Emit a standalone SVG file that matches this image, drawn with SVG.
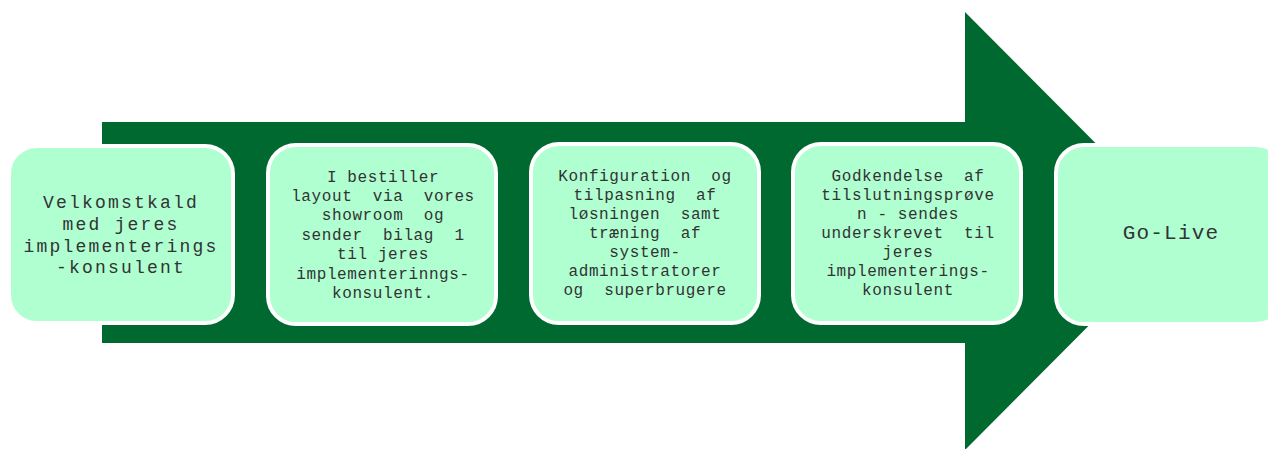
<svg xmlns="http://www.w3.org/2000/svg" width="1268" height="449" viewBox="0 0 1268 449">
<style>
.box{fill:#AFFFD1;stroke:#FFFFFF;stroke-width:4}
.t{font-family:"Liberation Mono","Courier New",monospace;fill:#333333;text-anchor:middle;white-space:pre}
.s{font-size:16px;letter-spacing:0.6px}
.b{font-size:18px;letter-spacing:2.2px}
.g{font-size:21px;letter-spacing:1.2px}
</style>
<g id="connectors">
<path d="M102,122 L965,122 L965,12 L1183,231 L965,450 L965,343 L102,343 Z" fill="#00692F"/>
</g>
<g id="n1">
<rect class="box" x="9" y="146" width="224" height="177" rx="28"/>
<text class="t b" xml:space="preserve"><tspan x="121" y="208">Velkomstkald</tspan><tspan x="121" y="230">med jeres</tspan><tspan x="121" y="252">implementerings</tspan><tspan x="121" y="273">-konsulent</tspan></text>
</g>
<g id="n2">
<rect class="box" x="268" y="145" width="228" height="179" rx="28"/>
<text class="t s" xml:space="preserve"><tspan x="383" y="182">I bestiller</tspan><tspan x="383" y="201">layout  via  vores</tspan><tspan x="383" y="220">showroom  og</tspan><tspan x="383" y="240">sender  bilag  1</tspan><tspan x="383" y="259">til jeres</tspan><tspan x="383" y="279">implementerinngs-</tspan><tspan x="383" y="298">konsulent.</tspan></text>
</g>
<g id="n3">
<rect class="box" x="531" y="144" width="228" height="179" rx="28"/>
<text class="t s" xml:space="preserve"><tspan x="645" y="181">Konfiguration  og</tspan><tspan x="645" y="200">tilpasning  af</tspan><tspan x="645" y="219">løsningen  samt</tspan><tspan x="645" y="238">træning  af</tspan><tspan x="645" y="257">system-</tspan><tspan x="645" y="276">administratorer</tspan><tspan x="645" y="295">og  superbrugere</tspan></text>
</g>
<g id="n4">
<rect class="box" x="793" y="144" width="228" height="179" rx="28"/>
<text class="t s" xml:space="preserve"><tspan x="908" y="181">Godkendelse  af</tspan><tspan x="908" y="200">tilslutningsprøve</tspan><tspan x="908" y="219">n - sendes</tspan><tspan x="908" y="238">underskrevet  til</tspan><tspan x="908" y="257">jeres</tspan><tspan x="908" y="276">implementerings-</tspan><tspan x="908" y="295">konsulent</tspan></text>
</g>
<g id="n5">
<rect class="box" x="1056" y="145" width="228" height="179" rx="28"/>
<text class="t g" xml:space="preserve"><tspan x="1171" y="239">Go-Live</tspan></text>
</g>
</svg>
